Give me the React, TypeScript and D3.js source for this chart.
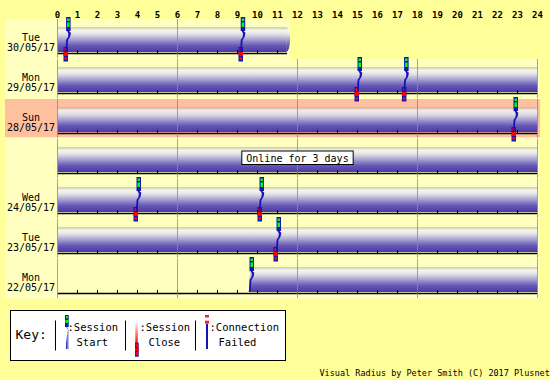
import React from "react";
import * as d3 from "d3";

// ---- data ----
const hourTicks = [0, 1, 2, 3, 4, 5, 6, 7, 8, 9, 10, 11, 12, 13, 14, 15, 16, 17, 18, 19, 20, 21, 22, 23, 24];
const gridHours = [0, 6, 12, 18, 24];
const dayNames = ["Tue", "Mon", "Sun", "", "Wed", "Tue", "Mon"];
const dayDates = ["30/05/17", "29/05/17", "28/05/17", "", "24/05/17", "23/05/17", "22/05/17"];
const weekendRows = [false, false, true, false, false, false, false];
const rowEndHour = [11.63, 24, 24, 24, 24, 24, 24];
const onlineFrom = [0, 0, 0, 0, 0, 0, 9.6];
const onlineTo = [11.63, 24, 24, 24, 24, 24, 24];
const sessionCloses = [[0.4, 9.15], [14.95, 17.32], [22.8], [], [3.9, 10.1], [10.9], []];
const sessionStarts = [[0.53, 9.26], [15.1, 17.43], [22.9], [], [4.05, 10.2], [11.05], [9.7]];
const rowNotes = ["", "", "", "Online for 3 days", "", "", ""];
const keyItems = [":Session", ":Session", ":Connection"];
const keyItems2 = ["Start", "Close", "Failed"];
const footer = "Visual Radius by Peter Smith (C) 2017 Plusnet";

const FONT = "'DejaVu Sans Mono', monospace";
const BG = "#FFFF99";
const ROW = "#FFFFC0";
const WEEKEND = "#FFC0A0";
const BLUE = "#1414b4";

function StartMarker({ x, y }: { x: number; y: number }) {
  return (
    <g>
      <path d={`M${x - 0.5},${y + 13} Q${x + 4},${y + 16} ${x - 1},${y + 22} L${x - 1.8},${y + 34}`} stroke={BLUE} strokeWidth={1.8} fill="none" />
      <path d={`M${x + 0.5},${y + 13} L${x + 3},${y + 15} L${x},${y + 19} Z`} fill={BLUE} />
      <rect x={x - 2} y={y - 1} width={4.5} height={14} fill={BLUE} />
      <rect x={x - 1} y={y + 0.5} width={2.5} height={2.5} fill="#00ff00" />
      <rect x={x - 1} y={y + 4.5} width={2.5} height={4.5} fill="#00ff00" />
    </g>
  );
}

function CloseMarker({ x, y }: { x: number; y: number }) {
  return (
    <g>
      <line x1={x - 1} x2={x - 1} y1={y + 9} y2={y + 30} stroke="url(#redLine)" strokeWidth={1.2} />
      <rect x={x - 2} y={y + 29} width={4.5} height={14.5} fill={BLUE} />
      <rect x={x - 1} y={y + 30} width={2.5} height={3} fill="#ff0000" />
      <rect x={x - 2} y={y + 34} width={4.5} height={4} fill="#ff0000" />
      <rect x={x - 1} y={y + 39} width={2.5} height={3} fill="#ff0000" />
    </g>
  );
}

export default function App() {
  const x = d3.scaleLinear().domain([0, 24]).range([57.5, 537.5]);
  const y = d3.scaleLinear().domain([0, 7]).range([18, 298]);
  const rows = d3.range(dayNames.length);

  return (
    <svg width={550} height={380} style={{ position: "absolute", left: 0, top: 0 }} fontFamily={FONT}>
      <defs>
        <linearGradient id="tube" x1="0" y1="0" x2="0" y2="1">
          <stop offset="0" stopColor="#a8a8b4" stopOpacity={0.6} />
          <stop offset="0.13" stopColor="#f6f6f0" stopOpacity={0.8} />
          <stop offset="0.3" stopColor="#dcdce8" stopOpacity={0.95} />
          <stop offset="0.55" stopColor="#9a92cc" />
          <stop offset="0.75" stopColor="#6656b6" />
          <stop offset="1" stopColor="#4a3aa6" />
        </linearGradient>
        <linearGradient id="redLine" x1="0" y1="0" x2="0" y2="1">
          <stop offset="0" stopColor="#ff0000" stopOpacity={0.1} />
          <stop offset="1" stopColor="#ff0000" stopOpacity={1} />
        </linearGradient>
        <linearGradient id="keyStart" x1="0" y1="0" x2="1" y2="0">
          <stop offset="0" stopColor={BLUE} />
          <stop offset="1" stopColor="#ffffff" />
        </linearGradient>
        <linearGradient id="keyClose" x1="0" y1="0" x2="0" y2="1">
          <stop offset="0" stopColor="#ffffff" />
          <stop offset="1" stopColor="#ff0000" />
        </linearGradient>
      </defs>
      <rect x={0} y={0} width={550} height={380} fill={BG} />

      {/* hour labels */}
      {hourTicks.map((h) => (
        <text key={h} x={x(h)} y={17.5} fontSize={9} fontWeight="bold" textAnchor="middle" fill="#000">
          {h}
        </text>
      ))}

      {/* rows */}
      {rows.map((i) => {
        const T = y(i);
        const fill = weekendRows[i] ? WEEKEND : ROW;
        const endX = rowEndHour[i] >= 24 ? x(24) + 2.5 : x(rowEndHour[i]);
        const hourMarks = hourTicks.filter((h) => h > 0 && h < 24 && h <= rowEndHour[i]);
        const grids = gridHours.filter((h) => h <= rowEndHour[i]);
        const bx0 = x(onlineFrom[i]);
        const bx1 = x(onlineTo[i]);
        const rounded = onlineTo[i] < 24;
        return (
          <g key={i}>
            <rect x={5} y={T + 1} width={endX - 5} height={38.5} fill={fill} />
            <rect x={5} y={T + 39.5} width={endX - 5} height={1} fill="#FFFFE0" />
            <text x={31} y={T + 23} fontSize={10} textAnchor="middle" fill="#000">{dayNames[i]}</text>
            <text x={31} y={T + 33} fontSize={10} textAnchor="middle" fill="#000">{dayDates[i]}</text>
            {/* tube */}
            <rect x={bx0} y={T + 9} width={(rounded ? bx1 - 4 : bx1) - bx0} height={25} fill="url(#tube)" />
            {rounded && <path d={`M${bx1 - 4},${T + 9} A4,12.5 0 0 1 ${bx1 - 4},${T + 34} Z`} fill="url(#tube)" />}
            {/* baseline */}
            <line x1={x(0)} x2={rounded ? bx1 - 3 : x(24)} y1={T + 35.5} y2={T + 35.5} stroke="#000" strokeWidth={1.5} />
            {hourMarks.map((h) => (
              <line key={h} x1={x(h)} x2={x(h)} y1={T + 32} y2={T + 35.5} stroke="#000" strokeWidth={1} />
            ))}
            {grids.map((h) => (
              <line key={"g" + h} x1={x(h)} x2={x(h)} y1={T + 1} y2={T + 40} stroke="#8c8c8c" strokeWidth={1} strokeOpacity={0.8} />
            ))}
          </g>
        );
      })}

      {/* session markers */}
      {rows.map((i) => (
        <g key={"m" + i}>
          {sessionCloses[i].map((t, k) => (
            <CloseMarker key={"c" + k} x={x(t)} y={y(i)} />
          ))}
          {sessionStarts[i].map((t, k) => (
            <StartMarker key={"s" + k} x={x(t)} y={y(i)} />
          ))}
        </g>
      ))}

      {/* notes */}
      {rows.filter((i) => rowNotes[i]).map((i) => {
        const cx = x(12);
        const w = rowNotes[i].length * 6.02 + 9;
        return (
          <g key={"n" + i}>
            <rect x={cx - w / 2} y={y(i) + 13} width={w} height={13.5} fill="#fff" stroke="#000" strokeWidth={1} />
            <text x={cx} y={y(i) + 23.5} fontSize={10} textAnchor="middle" fill="#000">{rowNotes[i]}</text>
          </g>
        );
      })}

      {/* key */}
      <g>
        <rect x={10.5} y={310.5} width={275} height={50} fill="#fff" stroke="#000" strokeWidth={1} />
        <text x={15.5} y={338.5} fontSize={13} fill="#000">Key:</text>
        {[55.5, 125.5, 195.5].map((sx) => (
          <line key={sx} x1={sx} x2={sx} y1={320.5} y2={350.5} stroke="#000" strokeWidth={1} />
        ))}
        {/* start glyph */}
        <path d="M66,327 C70,330 66,334 66,349 L69,349 C69,336 71,331 67,327 Z" fill="url(#keyStart)" />
        <rect x={65} y={315} width={3.7} height={12} fill={BLUE} />
        <rect x={66} y={316} width={1.8} height={2.5} fill="#00ff00" />
        <rect x={65.4} y={320} width={3} height={3} fill="#00ff00" />
        {/* close glyph */}
        <rect x={135.3} y={321.5} width={2.5} height={22} fill="url(#keyClose)" />
        <rect x={135} y={342.7} width={3.7} height={14} fill={BLUE} />
        <rect x={135.6} y={343.5} width={2.5} height={3.5} fill="#ff0000" />
        <rect x={135} y={348} width={3.7} height={3} fill="#ff0000" />
        <rect x={135.6} y={352} width={2.5} height={3.5} fill="#ff0000" />
        {/* failed glyph */}
        <rect x={205} y={315} width={4} height={2.5} fill="#ff2020" />
        <rect x={205} y={320.7} width={4} height={3} fill="#ff2020" />
        <rect x={206} y={324} width={2} height={25} fill={BLUE} />
        {[67.5, 139.5, 209.5].map((kx, k) => (
          <g key={k}>
            <text x={kx} y={330.5} fontSize={10.5} fill="#000">{keyItems[k]}</text>
            <text x={kx + 9} y={345.5} fontSize={10.5} fill="#000">{keyItems2[k]}</text>
          </g>
        ))}
      </g>

      <text x={319.5} y={375.5} fontSize={8.5} fill="#000">{footer}</text>
    </svg>
  );
}
